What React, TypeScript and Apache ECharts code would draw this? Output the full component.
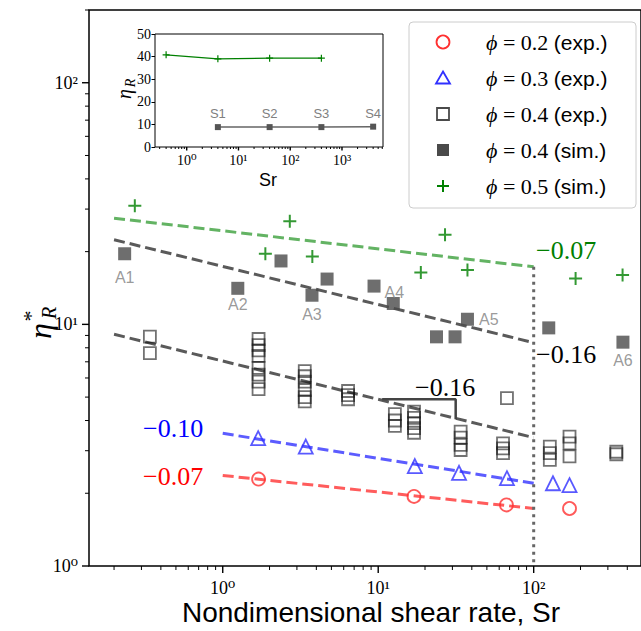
import React, { useEffect, useRef } from "react";
import * as echarts from "echarts";

// ---------------- data ----------------
const phi02Exp: number[][] = [[1.7, 2.29], [17.0, 1.94], [66.8, 1.79], [170, 1.73]];
const phi03Exp: number[][] = [[1.69, 3.38], [3.42, 3.12], [17.2, 2.59], [33.1, 2.43], [67.3, 2.31], [133, 2.2], [170, 2.16]];
const phi04Exp: number[][] = [
  [0.34, 8.9], [0.34, 7.6],
  [1.7, 8.7], [1.7, 8.2], [1.7, 7.8], [1.7, 7.4], [1.7, 6.6], [1.7, 6.2], [1.7, 5.8], [1.7, 5.4],
  [3.37, 6.4], [3.37, 6.1], [3.37, 5.8], [3.37, 5.35], [3.37, 5.0], [3.37, 4.8],
  [6.4, 5.3], [6.4, 5.1], [6.4, 4.9],
  [12.8, 4.25], [12.8, 4.0], [12.8, 3.8],
  [17.0, 4.35], [17.0, 4.1], [17.0, 3.9], [17.0, 3.72], [17.0, 3.56],
  [33.9, 3.6], [33.9, 3.4], [33.9, 3.17], [33.9, 3.02],
  [63.5, 3.22], [63.5, 3.07], [63.5, 2.93],
  [67.3, 4.95],
  [127, 3.12], [127, 2.93], [127, 2.75],
  [170, 3.43], [170, 3.22], [170, 2.84],
  [340, 2.97], [340, 2.9],
];
const phi04Sim: number[][] = [
  [0.234, 19.6], [1.25, 14.1], [2.37, 18.3], [3.75, 13.2], [4.69, 15.4], [9.4, 14.4],
  [12.5, 12.2], [23.7, 8.88], [31.2, 8.88], [37.5, 10.5], [125, 9.67], [375, 8.44],
];
const phi04SimLabels = ["A1", "A2", "", "A3", "", "A4", "", "", "", "A5", "", "A6"];
const phi05Sim: number[][] = [
  [0.272, 31.0], [1.88, 19.6], [2.7, 26.7], [3.77, 19.1], [18.8, 16.4],
  [26.9, 23.5], [37.5, 16.8], [186, 15.5], [373, 16.0],
];

// power-law fits (end points)
const fitPhi05Sim: number[][] = [[0.2, 27.5], [100, 17.3]];
const fitPhi04Sim: number[][] = [[0.2, 22.4], [100, 8.4]];
const fitPhi04Exp: number[][] = [[0.2, 9.1], [100, 3.4]];
const fitPhi03Exp: number[][] = [[1, 3.54], [100, 2.2]];
const fitPhi02Exp: number[][] = [[1, 2.37], [100, 1.73]];
const cutoffLine: number[][] = [[100, 17.3], [100, 1]];
const slopeBracket: number[][] = [[10.6, 4.9], [31.5, 4.9], [31.5, 4.05]];
const slopeTexts = ["\u22120.07", "\u22120.16", "\u22120.16", "\u22120.10", "\u22120.07"];

// inset
const insetSrPhi05 = [0.4, 4, 40, 400];
const insetEtaPhi05 = [40.8, 39.0, 39.3, 39.3];
const insetSrPhi04 = [4, 40, 400, 4000];
const insetEtaPhi04 = [8.8, 8.8, 8.8, 9.0];
const insetLabels = ["S1", "S2", "S3", "S4"];

const legendLabels = [
  ["0.2", "(exp.)"],
  ["0.3", "(exp.)"],
  ["0.4", "(exp.)"],
  ["0.4", "(sim.)"],
  ["0.5", "(sim.)"],
];

// axis limits
const X_MIN = 0.138, X_MAX = 490, Y_MIN = 1, Y_MAX = 200;
const IX_MIN = 0.244, IX_MAX = 6200, IY_MIN = 0, IY_MAX = 50, IY_STEP = 10;

// ---------------- styles ----------------
const SERIF = "'Liberation Serif', 'DejaVu Serif', serif";
const SANS = "'Liberation Sans', 'DejaVu Sans', sans-serif";
const C_RED = "#ff3030";
const C_BLUE = "#3030ff";
const C_SQ = "#4a4a4a";
const C_GREEN = "#008000";
const PLUS = "path://M0,5L10,5M5,0L5,10";
const SUP: Record<string, string> = { "-": "\u207b", "0": "\u2070", "1": "\u00b9", "2": "\u00b2", "3": "\u00b3", "4": "\u2074" };

function logTicks(min: number, max: number) {
  const out: number[][] = [];
  for (let k = -2; k <= 4; k++) {
    for (let m = 1; m <= 9; m++) {
      const v = m * Math.pow(10, k);
      if (v >= min * 0.9999 && v <= max * 1.0001) out.push([v, m === 1 ? 1 : 0]);
    }
  }
  return out;
}

function powLabel(size: number) {
  return {
    fontFamily: SERIF,
    fontSize: size,
    color: "#000",
    formatter: (v: number) => {
      const l = Math.log10(v);
      const e = Math.round(l);
      if (Math.abs(l - e) > 1e-6) return "";
      return "10" + String(e).split("").map((c) => SUP[c] || c).join("");
    },
  };
}

function tickSeries(axis: "x" | "y", gridIdx: number, vals: number[][], fixed: number, majLen: number, minLen: number) {
  return {
    type: "custom",
    xAxisIndex: gridIdx,
    yAxisIndex: gridIdx,
    clip: false,
    silent: true,
    z: 10,
    data: vals.map((t) => (axis === "x" ? [t[0], fixed, t[1]] : [fixed, t[0], t[1]])),
    renderItem: (_p: any, api: any) => {
      const p = api.coord([api.value(0), api.value(1)]);
      const major = api.value(2) === 1;
      const len = major ? majLen : minLen;
      const shape =
        axis === "x"
          ? { x1: p[0], y1: p[1], x2: p[0], y2: p[1] + len }
          : { x1: p[0], y1: p[1], x2: p[0] - len, y2: p[1] };
      return { type: "line", shape, style: { stroke: "#000", lineWidth: major ? 1.4 : 1 } };
    },
  };
}

function fitLine(data: number[][], color: string, dash: number[] | string = [11, 5], width = 3, gi = 0) {
  return {
    type: "line",
    xAxisIndex: gi,
    yAxisIndex: gi,
    data,
    symbol: "none",
    silent: true,
    lineStyle: { color, width, type: dash },
    z: 1,
  };
}

export default function App() {
  const ref = useRef<HTMLDivElement>(null);

  useEffect(() => {
    if (!ref.current) return;
    const chart = echarts.init(ref.current, undefined, { renderer: "svg" });

    const labelPos: Record<string, any> = {
      A1: { position: "bottom", distance: 9 },
      A2: { position: "bottom", distance: 2 },
      A3: { position: "bottom", distance: 5 },
      A4: { position: "right", distance: 4, offset: [0, 6] },
      A5: { position: "right", distance: 5 },
      A6: { position: "bottom", distance: 4 },
    };

    const legendRowY = [42, 78, 114, 150, 186];
    const legendMarkers: any[] = [
      { type: "circle", shape: { cx: 443, cy: legendRowY[0], r: 6.5 }, style: { fill: "none", stroke: C_RED, lineWidth: 1.8 } },
      { type: "polygon", shape: { points: [[443, legendRowY[1] - 6.5], [450, legendRowY[1] + 5.5], [436, legendRowY[1] + 5.5]] }, style: { fill: "none", stroke: C_BLUE, lineWidth: 1.8 } },
      { type: "rect", shape: { x: 437, y: legendRowY[2] - 6, width: 12, height: 12 }, style: { fill: "none", stroke: C_SQ, lineWidth: 1.8 } },
      { type: "rect", shape: { x: 437, y: legendRowY[3] - 6, width: 12, height: 12 }, style: { fill: C_SQ } },
      { type: "line", shape: { x1: 437, y1: legendRowY[4], x2: 449, y2: legendRowY[4] }, style: { stroke: C_GREEN, lineWidth: 2 } },
      { type: "line", shape: { x1: 443, y1: legendRowY[4] - 6, x2: 443, y2: legendRowY[4] + 6 }, style: { stroke: C_GREEN, lineWidth: 2 } },
    ];
    const legendTexts = legendLabels.map((l, i) => ({
      type: "text",
      x: 486,
      y: legendRowY[i],
      style: {
        text: `{i|\u03d5}{m| = ${l[0]} }{s|${l[1]}}`,
        verticalAlign: "middle",
        align: "left",
        rich: {
          i: { fontFamily: SERIF, fontStyle: "italic", fontSize: 22, fill: "#000" },
          m: { fontFamily: SERIF, fontSize: 22, fill: "#000" },
          s: { fontFamily: SANS, fontSize: 21, fill: "#000" },
        },
      },
    }));

    const slopePos = [
      { x: 536, y: 250, c: C_GREEN },
      { x: 536, y: 354, c: "#000" },
      { x: 415, y: 387, c: "#000" },
      { x: 143, y: 428, c: "#0000ff" },
      { x: 143, y: 476, c: "#ff0000" },
    ];
    const slopeGraphics = slopeTexts.map((t, i) => ({
      type: "text",
      x: slopePos[i].x,
      y: slopePos[i].y,
      style: { text: t, fontFamily: SERIF, fontSize: 26, fill: slopePos[i].c, verticalAlign: "middle", align: "left" },
    }));

    const option: any = {
      animation: false,
      backgroundColor: "#fff",
      grid: [
        { left: 89, top: 10, right: -2, bottom: 65, show: true, borderColor: "#000", borderWidth: 1.5, backgroundColor: "transparent" },
        { left: 155, top: 34, width: 228, height: 113, show: true, borderColor: "#000", borderWidth: 1, backgroundColor: "#fff", z: 5 },
      ],
      xAxis: [
        {
          gridIndex: 0, type: "log", logBase: 10, min: X_MIN, max: X_MAX,
          axisLine: { show: false }, axisTick: { show: false }, splitLine: { show: false },
          axisLabel: { ...powLabel(18), margin: 13, showMinLabel: false, showMaxLabel: false },
        },
        {
          gridIndex: 1, type: "log", logBase: 10, min: IX_MIN, max: IX_MAX,
          axisLine: { show: false }, axisTick: { show: false }, splitLine: { show: false },
          axisLabel: { ...powLabel(14), margin: 6, showMinLabel: false, showMaxLabel: false },
          z: 6,
        },
      ],
      yAxis: [
        {
          gridIndex: 0, type: "log", logBase: 10, min: Y_MIN, max: Y_MAX,
          axisLine: { show: false }, axisTick: { show: false }, splitLine: { show: false },
          axisLabel: { ...powLabel(18), margin: 11, showMaxLabel: false },
        },
        {
          gridIndex: 1, type: "value", min: IY_MIN, max: IY_MAX, interval: IY_STEP,
          axisLine: { show: false }, splitLine: { show: false },
          axisTick: { show: true, length: 3.5, lineStyle: { color: "#000", width: 1 } },
          axisLabel: { fontFamily: SERIF, fontSize: 14, color: "#000", margin: 4 },
          z: 6,
        },
      ],
      series: [
        // fit lines
        fitLine(fitPhi05Sim, "#63b363"),
        fitLine(fitPhi04Sim, "#5a5a5a"),
        fitLine(fitPhi04Exp, "#5a5a5a"),
        fitLine(fitPhi03Exp, "#5c5cff"),
        fitLine(fitPhi02Exp, "#ff5c5c"),
        fitLine(cutoffLine, "#666", [3, 4.5], 3),
        fitLine(slopeBracket, "#444", "solid", 2.5),
        {
          name: "phi=0.2 (exp.)", type: "scatter", data: phi02Exp, symbol: "circle", symbolSize: 13,
          itemStyle: { color: "transparent", borderColor: C_RED, borderWidth: 1.8 }, z: 3,
        },
        {
          name: "phi=0.3 (exp.)", type: "scatter", data: phi03Exp, symbol: "triangle", symbolSize: 14,
          itemStyle: { color: "transparent", borderColor: C_BLUE, borderWidth: 1.8 }, z: 3,
        },
        {
          name: "phi=0.4 (exp.)", type: "scatter", data: phi04Exp, symbol: "rect", symbolSize: 12,
          itemStyle: { color: "transparent", borderColor: "rgba(20,20,20,0.75)", borderWidth: 1.8 }, z: 3,
        },
        {
          name: "phi=0.4 (sim.)", type: "scatter", symbol: "rect", symbolSize: 13,
          itemStyle: { color: C_SQ }, z: 3,
          data: phi04Sim.map((d, i) => {
            const lab = phi04SimLabels[i];
            if (!lab) return { value: d };
            return {
              value: d,
              label: { show: true, formatter: lab, fontFamily: SANS, fontSize: 16, color: "#808080", ...labelPos[lab] },
            };
          }),
        },
        {
          name: "phi=0.5 (sim.)", type: "scatter", data: phi05Sim, symbol: PLUS, symbolSize: 13,
          itemStyle: { color: "transparent", borderColor: C_GREEN, borderWidth: 2 }, z: 3,
        },
        // inset series
        {
          type: "line", xAxisIndex: 1, yAxisIndex: 1, z: 7,
          data: insetSrPhi05.map((x, i) => [x, insetEtaPhi05[i]]),
          symbol: PLUS, symbolSize: 7, showAllSymbol: true,
          lineStyle: { color: C_GREEN, width: 1.2 },
          itemStyle: { color: "transparent", borderColor: C_GREEN, borderWidth: 1.2 },
        },
        {
          type: "line", xAxisIndex: 1, yAxisIndex: 1, z: 7,
          data: insetSrPhi04.map((x, i) => ({
            value: [x, insetEtaPhi04[i]],
            label: { show: true, formatter: insetLabels[i], position: "top", distance: 4, fontFamily: SANS, fontSize: 13, color: "#808080" },
          })),
          symbol: "rect", symbolSize: 6,
          lineStyle: { color: "#666", width: 1.5 },
          itemStyle: { color: "#555" },
        },
        // ticks
        tickSeries("x", 0, logTicks(X_MIN, X_MAX), Y_MIN, 7, 4),
        tickSeries("y", 0, logTicks(Y_MIN, Y_MAX), X_MIN, 7, 4),
        { ...tickSeries("x", 1, logTicks(IX_MIN, IX_MAX), IY_MIN, 3.5, 2), z: 11 },
      ],
      graphic: [
        // axis titles
        {
          type: "text", x: 371, y: 612, z: 50,
          style: { text: "Nondimensional shear rate, Sr", fontFamily: SANS, fontSize: 28, fill: "#000", align: "center", verticalAlign: "middle" },
        },
        {
          type: "group", x: 40, y: 325, rotation: Math.PI / 2, z: 50,
          children: [
            { type: "text", x: -6, y: 0, style: { text: "\u03b7", fontFamily: SERIF, fontStyle: "italic", fontSize: 32, fill: "#000", align: "center", verticalAlign: "middle" } },
            { type: "text", x: 9, y: -10, style: { text: "*", fontFamily: SERIF, fontSize: 22, fill: "#000", align: "center", verticalAlign: "middle" } },
            { type: "text", x: 12, y: 9, style: { text: "R", fontFamily: SERIF, fontStyle: "italic", fontSize: 20, fill: "#000", align: "center", verticalAlign: "middle" } },
          ],
        },
        {
          type: "text", x: 268, y: 180, z: 50,
          style: { text: "Sr", fontFamily: SANS, fontSize: 18, fill: "#000", align: "center", verticalAlign: "middle" },
        },
        {
          type: "group", x: 124, y: 90, rotation: Math.PI / 2, z: 50,
          children: [
            { type: "text", x: -4, y: 0, style: { text: "\u03b7", fontFamily: SERIF, fontStyle: "italic", fontSize: 20, fill: "#000", align: "center", verticalAlign: "middle" } },
            { type: "text", x: 7, y: 6, style: { text: "R", fontFamily: SERIF, fontStyle: "italic", fontSize: 14, fill: "#000", align: "center", verticalAlign: "middle" } },
          ],
        },
        // slope annotations
        ...slopeGraphics.map((g) => ({ ...g, z: 40 })),
        // legend
        {
          type: "rect", z: 60,
          shape: { x: 409, y: 22, width: 227, height: 186, r: 4 },
          style: { fill: "rgba(255,255,255,0.85)", stroke: "#cccccc", lineWidth: 1 },
        },
        ...legendMarkers.map((m) => ({ ...m, z: 61 })),
        ...legendTexts.map((t) => ({ ...t, z: 61 })),
      ],
    };

    chart.setOption(option);
    return () => chart.dispose();
  }, []);

  return <div ref={ref} style={{ position: "absolute", left: 0, top: 0, width: 641, height: 631 }} />;
}
